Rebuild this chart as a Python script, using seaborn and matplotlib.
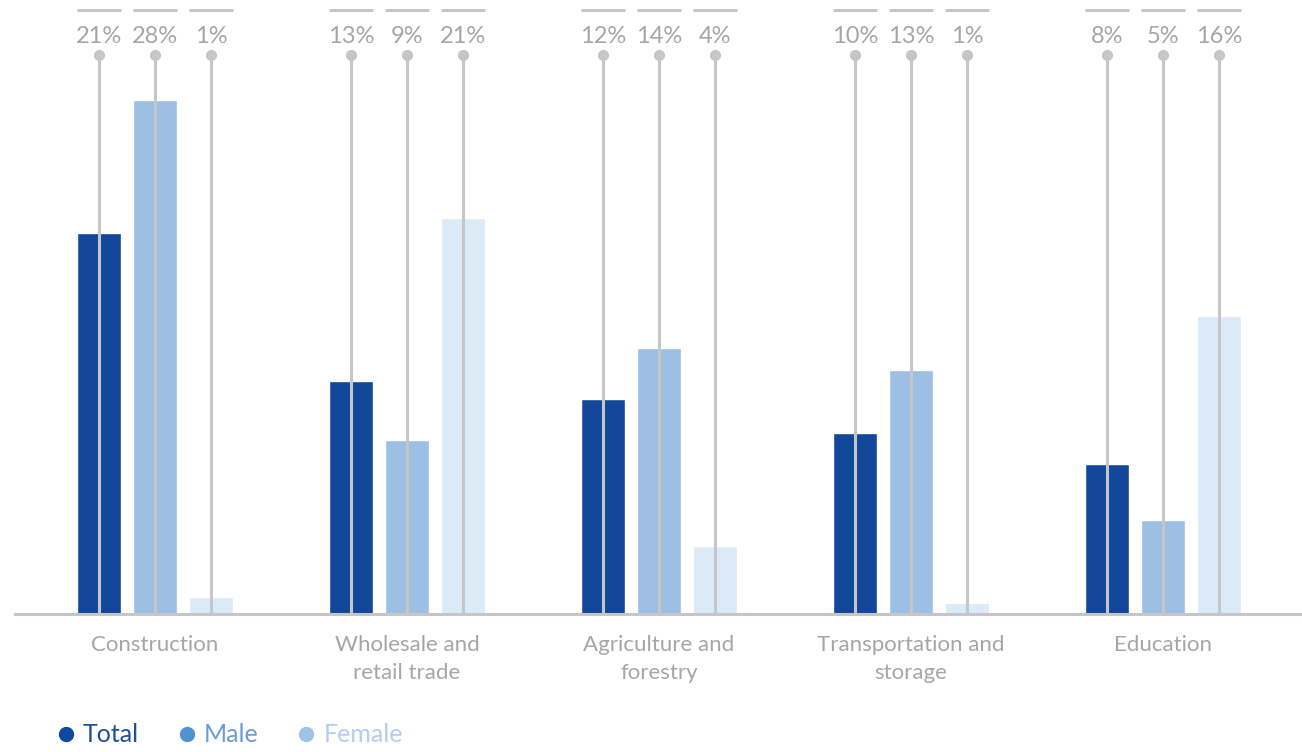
import pandas as pd
import matplotlib.pyplot as plt
from matplotlib.lines import Line2D
import seaborn as sns

sectors = ['Construction', 'Wholesale and\nretail trade', 'Agriculture and\nforestry',
           'Transportation and\nstorage', 'Education']
groups = ['Total', 'Male', 'Female']
total = [20.6, 12.6, 11.6, 9.8, 8.1]
male = [27.8, 9.4, 14.4, 13.2, 5.1]
female = [0.9, 21.4, 3.7, 0.6, 16.1]

bar_colors = ['#12479A', '#9DBFE3', '#DCE9F7']
dot_colors = ['#0B4A9E', '#5193D0', '#A1C2E7']
text_colors = ['#1F4E9E', '#6A9DD6', '#B3CDEC']
grey = '#C6C6CA'
label_grey = '#A6A6A6'

rows = []
for i, s in enumerate(sectors):
    for g, vals in zip(groups, [total, male, female]):
        rows.append({'Sector': s, 'Group': g, 'Share': vals[i]})
df = pd.DataFrame(rows)

sns.set_style('white')
plt.rcParams['font.family'] = ['Lato', 'DejaVu Sans']

fig = plt.figure(figsize=(13.02, 7.52), dpi=100)
ax = fig.add_axes([15 / 1302, 138 / 752, 1287 / 1302, 614 / 752])

sns.barplot(data=df, x='Sector', y='Share', hue='Group', hue_order=groups,
            order=sectors, palette=bar_colors, width=0.667, gap=0.21,
            saturation=1, legend=False, ax=ax)

ax.set_xlim(-0.556, 4.552)
ax.set_ylim(0, 33.19)

# bars come out hue by hue, in sector order
for k, g in enumerate(groups):
    vals = [total, male, female][k]
    for i in range(len(sectors)):
        p = ax.patches[k * len(sectors) + i]
        xc = p.get_x() + p.get_width() / 2
        ax.plot([xc, xc], [0, 30.2], color=grey, lw=2.2, zorder=3,
                solid_capstyle='butt')
        ax.plot(xc, 30.2, 'o', color=grey, ms=7, zorder=4)
        ax.text(xc, 31.2, f'{vals[i]:.0f}%', ha='center', va='center',
                fontsize=17, color=label_grey)
        ax.plot([p.get_x(), p.get_x() + p.get_width()], [32.65, 32.65],
                color=grey, lw=2.2, solid_capstyle='butt', clip_on=False)

for side in ['top', 'right', 'left']:
    ax.spines[side].set_visible(False)
ax.spines['bottom'].set_color(grey)
ax.spines['bottom'].set_linewidth(2.2)
ax.set_yticks([])
ax.set_xlabel('')
ax.set_ylabel('')
ax.tick_params(axis='x', length=0, pad=15, labelsize=16, labelcolor=label_grey)
for t in ax.get_xticklabels():
    t.set_linespacing(1.5)

handles = [Line2D([], [], marker='o', ls='', color=c, ms=10) for c in dot_colors]
fig.legend(handles, groups, loc='center left', bbox_to_anchor=(28 / 1302, 1 - 735 / 752),
           ncol=3, frameon=False, fontsize=18, labelcolor=text_colors,
           handletextpad=0.1, columnspacing=1.3, handlelength=1.2)

fig.savefig('out.png', dpi=100)
